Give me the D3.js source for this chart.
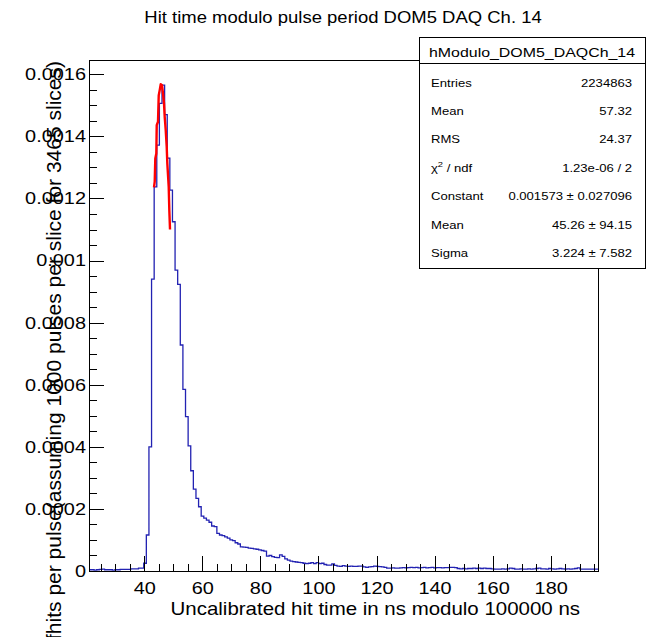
<!DOCTYPE html>
<html>
<head>
<meta charset="utf-8">
<script src="https://cdn.jsdelivr.net/npm/d3@7"></script>
<style>
  body { margin: 0; background: #fff; }
  svg { display: block; font-family: "Liberation Sans", Arial, sans-serif; }
</style>
</head>
<body>
<div id="chart"></div>
<script>
// histogram definition (ns)
const binStart = 20.9;
const binWidth = 0.9;
const binValues = [
  4e-6,
  4e-6, 3e-6, 4e-6, 5e-6, 6e-6, 4e-6, 4e-6, 4e-6, 3e-6, 4e-6,
  4e-6, 5e-6, 5e-6, 5e-6, 5e-6, 7e-6, 7e-6, 7e-6, 9e-6, 9e-6,
  2.5e-5,
  1.16e-4, 4.0e-4, 9.4e-4, 1.237e-3, 1.372e-3, 1.506e-3, 1.565e-3, 1.47e-3, 1.33e-3, 1.227e-3,
  1.125e-3, 9.69e-4, 9.23e-4, 7.28e-4, 5.85e-4, 4.97e-4, 4.03e-4, 3.23e-4, 2.64e-4, 2.34e-4,
  2.07e-4, 1.77e-4, 1.70e-4, 1.64e-4, 1.57e-4, 1.45e-4, 1.43e-4, 1.21e-4,
  1.16e-4, 1.14e-4, 1.10e-4, 1.06e-4, 1.00e-4, 9.8e-5, 9.1e-5, 8.7e-5, 7.8e-5, 7.7e-5,
  7.6e-5, 7.4e-5, 7.3e-5, 7.1e-5, 7.0e-5, 6.8e-5, 6.6e-5, 6.4e-5, 4.8e-5, 5.0e-5,
  4.6e-5, 4.4e-5, 4.3e-5, 5.2e-5, 4.7e-5, 3.9e-5, 3.5e-5, 3.2e-5, 3.0e-5, 2.9e-5,
  2.8e-5, 2.7e-5, 2.5e-5, 2.4e-5, 2.5e-5, 2.7e-5, 2.4e-5, 2.7e-5, 2.4e-5, 2.5e-5,
  2.1e-5, 1.9e-5, 1.9e-5, 2.3e-5, 1.8e-5,
  1.6e-5, 1.5e-5, 1.7e-5, 1.6e-5, 1.5e-5, 1.6e-5, 1.5e-5,
  1.5e-5, 1.6e-5, 1.6e-5, 1.3e-5, 1.2e-5, 1.3e-5, 1.4e-5, 1.6e-5, 1.5e-5, 1.4e-5,
  1.3e-5, 1.2e-5, 9e-6, 9e-6, 1.0e-5, 9e-6, 9e-6, 1.0e-5, 1.1e-5, 1.0e-5,
  1.1e-5, 1.2e-5, 1.1e-5, 1.2e-5, 1.0e-5, 1.1e-5, 1.2e-5, 1.0e-5, 1.1e-5, 1.2e-5,
  1.0e-5, 1.1e-5, 1.1e-5, 1.0e-5, 1.1e-5, 1.1e-5, 1.2e-5, 1.2e-5, 1.1e-5, 8e-6,
  7e-6, 8e-6, 7e-6, 8e-6, 8e-6, 9e-6, 8e-6, 9e-6, 8e-6, 9e-6,
  8e-6, 8e-6, 7e-6, 6e-6, 6e-6, 6e-6, 7e-6, 6e-6, 7e-6, 9e-6,
  8e-6, 6e-6, 6e-6, 7e-6, 6e-6, 6e-6, 7e-6, 6e-6, 7e-6, 8e-6,
  9e-6, 7e-6, 7e-6, 6e-6, 8e-6, 7e-6, 6e-6, 7e-6, 8e-6, 7e-6,
  6e-6, 7e-6, 6e-6, 7e-6, 8e-6, 1.0e-5, 6e-6, 6e-6, 6e-6, 6e-6,
  6e-6, 6e-6, 6e-6
];

// gaussian fit curve as drawn (x in ns, y in hits/pulse)
const fitX = [43.34, 43.59, 43.79, 44.14, 44.28, 44.72, 44.97, 45.31, 45.66, 46.10,
  46.45, 46.79, 47.03, 47.38, 47.72, 47.93, 48.41, 48.62, 48.86];
const fitY = [1.236e-3, 1.254e-3, 1.329e-3, 1.345e-3, 1.436e-3, 1.447e-3, 1.532e-3, 1.549e-3, 1.568e-3, 1.565e-3,
  1.538e-3, 1.506e-3, 1.463e-3, 1.420e-3, 1.366e-3, 1.313e-3, 1.237e-3, 1.162e-3, 1.100e-3];

const xTicks = [40, 60, 80, 100, 120, 140, 160, 180];
const yTicks = [0, 0.0002, 0.0004, 0.0006, 0.0008, 0.001, 0.0012, 0.0014, 0.0016];
const yTickLabels = ["0", "0.0002", "0.0004", "0.0006", "0.0008", "0.001", "0.0012", "0.0014", "0.0016"];

const statsTitle = "hModulo_DOM5_DAQCh_14";
const statsNames = ["Entries", "Mean", "RMS", "chi2", "Constant", "Mean", "Sigma"];
const statsValues = ["2234863", "57.32", "24.37", "1.23e-06 / 2", "0.001573 \u00b1 0.027096", "45.26 \u00b1 94.15", "3.224 \u00b1 7.582"];

const title = "Hit time modulo pulse period DOM5 DAQ Ch. 14";
const xTitle = "Uncalibrated hit time in ns modulo 100000 ns";
const yTitle = "fhits per pulse(assuming 1000 pulses per slice for 3465 slices)";

function histPlot({
  width = 647,
  height = 637,
  marginLeft = 89,
  marginRight = 49,
  marginTop = 60,
  marginBottom = 66,
  xDomain = [20.95, 196.3],
  yMax = 0.001646,
  stretch = 1.17, // text is a bit wider than tall in the source
  lineColor = "#2222b2",
  fitColor = "#ff0000",
} = {}) {
  const xScale = d3.scaleLinear(xDomain, [marginLeft, width - marginRight]);
  const yScale = d3.scaleLinear([0, yMax], [height - marginBottom, marginTop]);

  const svg = d3.create("svg")
    .attr("width", width)
    .attr("height", height)
    .attr("viewBox", [0, 0, width, height]);

  svg.append("rect").attr("width", width).attr("height", height).attr("fill", "#fff");

  svg.append("clipPath").attr("id", "frameClip")
    .append("rect")
    .attr("x", marginLeft).attr("y", marginTop)
    .attr("width", width - marginLeft - marginRight)
    .attr("height", height - marginTop - marginBottom);

  // histogram outline
  const pts = binValues.map((v, i) => [binStart + i * binWidth, v]);
  pts.push([binStart + binValues.length * binWidth, binValues[binValues.length - 1]]);
  const step = d3.line()
    .x(d => xScale(d[0]))
    .y(d => yScale(d[1]))
    .curve(d3.curveStepAfter);

  svg.append("path")
    .attr("clip-path", "url(#frameClip)")
    .attr("d", step(pts))
    .attr("fill", "none")
    .attr("stroke", lineColor)
    .attr("stroke-width", 1.3);

  // fit
  const fitLine = d3.line()
    .x((d, i) => xScale(fitX[i]))
    .y((d, i) => yScale(fitY[i]));
  svg.append("path")
    .attr("d", fitLine(fitX))
    .attr("fill", "none")
    .attr("stroke", fitColor)
    .attr("stroke-width", 2.4)
    .attr("stroke-linejoin", "round");

  // axes: ROOT style ticks inside the frame
  const minorX = d3.range(25, 196, 5).filter(v => v % 20 !== 0);
  const minorY = d3.range(0, yMax, 0.00005).filter((v, i) => i % 4 !== 0);

  const xAxisG = svg.append("g")
    .attr("transform", `translate(0,${height - marginBottom})`)
    .call(d3.axisBottom(xScale).tickValues(xTicks).tickSizeInner(-15).tickSizeOuter(0).tickPadding(11))
    .call(g => g.select(".domain").remove());
  svg.append("g")
    .attr("transform", `translate(0,${height - marginBottom})`)
    .call(d3.axisBottom(xScale).tickValues(minorX).tickSizeInner(-7).tickSizeOuter(0).tickFormat(""))
    .call(g => g.select(".domain").remove());

  const yAxisG = svg.append("g")
    .attr("transform", `translate(${marginLeft},0)`)
    .call(d3.axisLeft(yScale).tickValues(yTicks).tickSizeInner(-15).tickSizeOuter(0).tickPadding(2.6)
      .tickFormat((d, i) => yTickLabels[i]))
    .call(g => g.select(".domain").remove());
  svg.append("g")
    .attr("transform", `translate(${marginLeft},0)`)
    .call(d3.axisLeft(yScale).tickValues(minorY).tickSizeInner(-8).tickSizeOuter(0).tickFormat(""))
    .call(g => g.select(".domain").remove());

  svg.selectAll(".tick line").attr("stroke", "#000").attr("shape-rendering", "crispEdges");
  [xAxisG, yAxisG].forEach(g => g.selectAll(".tick text")
    .attr("font-size", 17)
    .attr("fill", "#000")
    .attr("font-family", "Liberation Sans, Arial, sans-serif")
    .attr("transform", `scale(${stretch},1)`));

  // frame
  svg.append("rect")
    .attr("x", marginLeft + 0.5).attr("y", marginTop + 0.5)
    .attr("width", width - marginLeft - marginRight)
    .attr("height", height - marginTop - marginBottom)
    .attr("fill", "none")
    .attr("stroke", "#000")
    .attr("shape-rendering", "crispEdges");

  // titles
  const hText = (x, y, size, anchor, str) => svg.append("text")
    .attr("transform", `translate(${x},${y}) scale(${stretch},1)`)
    .attr("font-size", size)
    .attr("text-anchor", anchor)
    .attr("fill", "#000")
    .text(str);

  hText(343, 23, 15.8, "middle", title);
  hText(580, 615, 17.5, "end", xTitle);

  svg.append("text")
    .attr("transform", "translate(61,61) rotate(-90)")
    .attr("font-size", 21)
    .attr("text-anchor", "end")
    .attr("fill", "#000")
    .text(yTitle);

  // stats box
  const bx = 419, by = 37, bw = 226, bh = 231;
  svg.append("rect")
    .attr("x", bx + 0.5).attr("y", by + 0.5)
    .attr("width", bw).attr("height", bh)
    .attr("fill", "#fff").attr("stroke", "#000")
    .attr("shape-rendering", "crispEdges");
  svg.append("line")
    .attr("x1", bx).attr("x2", bx + bw)
    .attr("y1", 63.5).attr("y2", 63.5)
    .attr("stroke", "#000")
    .attr("shape-rendering", "crispEdges");

  hText(532, 56.7, 13.6, "middle", statsTitle);

  statsNames.forEach((name, i) => {
    const y = 86.6 + i * 28.43;
    const t = hText(431, y, 11.2, "start", "");
    if (name === "chi2") {
      t.append("tspan").text("\u03c7");
      t.append("tspan").attr("font-size", 8).attr("dy", -5).text("2");
      t.append("tspan").attr("dy", 5).text(" / ndf");
    } else {
      t.text(name);
    }
    hText(632, y, 11.2, "end", statsValues[i]);
  });

  return svg.node();
}

document.getElementById("chart").appendChild(histPlot());
</script>
</body>
</html>
